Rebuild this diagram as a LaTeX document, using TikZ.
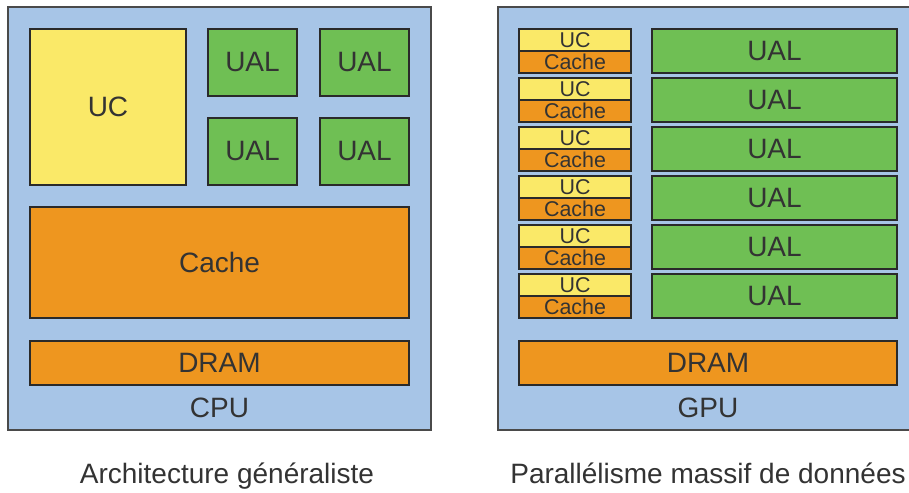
\documentclass[tikz,border=0pt]{standalone}
\usepackage{fontspec}
\setmainfont{Liberation Sans}
\definecolor{bgblue}{HTML}{A7C5E7}
\definecolor{ucyellow}{HTML}{FAE968}
\definecolor{ualgreen}{HTML}{6FBF54}
\definecolor{cacheorange}{HTML}{EE961F}
\definecolor{edge}{HTML}{2A2A2A}
\definecolor{frame}{HTML}{4A4A4A}
\definecolor{txt}{HTML}{333333}
\tikzset{
  unit/.style={draw=edge, line width=1.4pt, inner sep=0pt, outer sep=0pt, anchor=north west, text=txt, font=\fontsize{28}{30}\selectfont},
  ucbox/.style={unit, fill=ucyellow},
  ualbox/.style={unit, fill=ualgreen},
  cachebox/.style={unit, fill=cacheorange},
  small/.style={font=\fontsize{21.4}{23}\selectfont},
  chip/.style={draw=frame, line width=1.6pt, fill=bgblue},
  lbl/.style={text=txt, font=\fontsize{28}{30}\selectfont, inner sep=0pt},
  caption/.style={text=txt, font=\fontsize{28}{30}\selectfont, inner sep=0pt, anchor=base}
}
\begin{document}
\begin{tikzpicture}[x=1pt, y=-1pt]
\clip (0,0) rectangle (909,492);
\fill[white] (0,0) rectangle (909,492);
% CPU
\draw[chip] (8,7) rectangle (431,430);
\node[ucbox, minimum width=156, minimum height=156] (uc) at (30,29) {UC};
\node[ualbox, minimum width=89, minimum height=67] (ual1) at (208,29) {UAL};
\node[ualbox, minimum width=89, minimum height=67] (ual2) at (320,29) {UAL};
\node[ualbox, minimum width=89, minimum height=67] (ual3) at (208,118) {UAL};
\node[ualbox, minimum width=89, minimum height=67] (ual4) at (320,118) {UAL};
\node[cachebox, minimum width=379, minimum height=111] (cache) at (30,207) {Cache};
\node[cachebox, minimum width=379, minimum height=44] (dram1) at (30,341) {DRAM};
\node[lbl] (cpu) at (219.5,408) {CPU};
\node[caption] (cap1) at (227,483) {Architecture généraliste};
% GPU
\draw[chip] (498,7) rectangle (915,430);
\foreach \i in {0,...,5} {
  \pgfmathsetmacro{\yy}{29+49*\i}
  \pgfmathsetmacro{\yc}{51+49*\i}
  \node[ucbox, small, minimum width=112, minimum height=22] (guc\i) at (519,\yy) {UC};
  \node[cachebox, small, minimum width=112, minimum height=22] (gcache\i) at (519,\yc) {Cache};
  \node[ualbox, minimum width=245, minimum height=44] (gual\i) at (652,\yy) {UAL};
}
\node[cachebox, minimum width=378, minimum height=44] (dram2) at (519,341) {DRAM};
\node[lbl] (gpu) at (708,408) {GPU};
\node[caption] (cap2) at (708,483) {Parallélisme massif de données};
\end{tikzpicture}
\end{document}
